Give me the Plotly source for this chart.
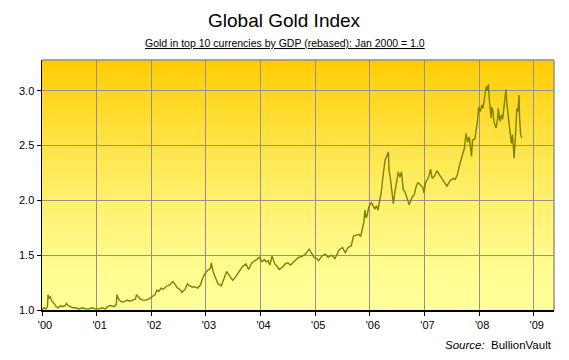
import plotly.graph_objects as go

# ---- data ----
t = [2000.00, 2000.03, 2000.07, 2000.10, 2000.11, 2000.13, 2000.15, 2000.18, 2000.22, 2000.26,
     2000.30, 2000.34, 2000.38, 2000.42, 2000.45, 2000.48, 2000.52, 2000.56, 2000.62, 2000.68,
     2000.74, 2000.80, 2000.86, 2000.92, 2000.98, 2001.04, 2001.10, 2001.16, 2001.20, 2001.26,
     2001.32, 2001.36, 2001.37, 2001.40, 2001.44, 2001.48, 2001.52, 2001.56, 2001.60, 2001.66,
     2001.71, 2001.73, 2001.76, 2001.80, 2001.85, 2001.90, 2001.95, 2002.00, 2002.03, 2002.07,
     2002.10, 2002.14, 2002.18, 2002.22, 2002.26, 2002.30, 2002.34, 2002.40, 2002.44, 2002.48,
     2002.52, 2002.56, 2002.58, 2002.62, 2002.66, 2002.70, 2002.75, 2002.80, 2002.85, 2002.90,
     2002.94, 2002.98, 2003.03, 2003.08, 2003.10, 2003.13, 2003.17, 2003.22, 2003.28, 2003.32,
     2003.38, 2003.42, 2003.49, 2003.54, 2003.60, 2003.66, 2003.73, 2003.78, 2003.84, 2003.90,
     2003.98, 2004.03, 2004.07, 2004.10, 2004.14, 2004.17, 2004.21, 2004.26, 2004.30, 2004.34,
     2004.40, 2004.45, 2004.50, 2004.55, 2004.60, 2004.65, 2004.70, 2004.76, 2004.82, 2004.89,
     2004.93, 2004.98, 2005.03, 2005.06, 2005.12, 2005.18, 2005.24, 2005.30, 2005.36, 2005.44,
     2005.50, 2005.55, 2005.60, 2005.66, 2005.70, 2005.74, 2005.80, 2005.83, 2005.86, 2005.89,
     2005.91, 2005.93, 2005.95, 2005.98, 2006.03, 2006.06, 2006.09, 2006.12, 2006.15, 2006.18,
     2006.21, 2006.24, 2006.28, 2006.34, 2006.35, 2006.37, 2006.40, 2006.43, 2006.46, 2006.52,
     2006.55, 2006.58, 2006.61, 2006.64, 2006.67, 2006.70, 2006.72, 2006.75, 2006.78, 2006.81,
     2006.85, 2006.88, 2006.91, 2006.94, 2006.97, 2006.99, 2007.02, 2007.05, 2007.08, 2007.11,
     2007.14, 2007.18, 2007.23, 2007.29, 2007.35, 2007.41, 2007.47, 2007.53, 2007.56, 2007.60,
     2007.64, 2007.68, 2007.73, 2007.76, 2007.79, 2007.82, 2007.86, 2007.88, 2007.92, 2007.97,
     2007.99, 2008.02, 2008.05, 2008.07, 2008.09, 2008.11, 2008.13, 2008.15, 2008.17, 2008.19,
     2008.22, 2008.23, 2008.25, 2008.27, 2008.31, 2008.34, 2008.35, 2008.38, 2008.41, 2008.43,
     2008.45, 2008.49, 2008.51, 2008.54, 2008.57, 2008.59, 2008.61, 2008.62, 2008.64, 2008.66,
     2008.68, 2008.69, 2008.71, 2008.73, 2008.74, 2008.76, 2008.78]

index = [1.00, 1.02, 1.01, 1.03, 1.14, 1.11, 1.12, 1.08, 1.06, 1.03,
         1.02, 1.04, 1.03, 1.04, 1.06, 1.04, 1.03, 1.02, 1.02, 1.01,
         1.02, 1.01, 1.01, 1.02, 1.01, 1.01, 1.02, 1.01, 1.03, 1.04,
         1.03, 1.05, 1.14, 1.10, 1.08, 1.07, 1.08, 1.09, 1.08, 1.09,
         1.10, 1.14, 1.12, 1.10, 1.09, 1.09, 1.10, 1.12, 1.13, 1.14,
         1.18, 1.17, 1.20, 1.19, 1.21, 1.22, 1.23, 1.26, 1.23, 1.20,
         1.19, 1.16, 1.17, 1.19, 1.24, 1.22, 1.21, 1.21, 1.20, 1.23,
         1.29, 1.33, 1.36, 1.38, 1.43, 1.35, 1.30, 1.24, 1.22, 1.27,
         1.35, 1.32, 1.27, 1.30, 1.35, 1.39, 1.42, 1.37, 1.43, 1.455,
         1.48, 1.44, 1.46, 1.44, 1.45, 1.41, 1.49, 1.42, 1.40, 1.37,
         1.39, 1.42, 1.43, 1.41, 1.44, 1.46, 1.48, 1.49, 1.51, 1.555,
         1.52, 1.48, 1.47, 1.45, 1.49, 1.51, 1.48, 1.50, 1.47, 1.55,
         1.57, 1.52, 1.57, 1.585, 1.675, 1.68, 1.69, 1.67, 1.73, 1.80,
         1.91, 1.84, 1.86, 1.94, 1.98, 1.95, 1.92, 1.95, 1.91, 2.00,
         2.08, 2.22, 2.37, 2.44, 2.28, 2.22, 2.10, 1.97, 2.08, 2.26,
         2.21, 2.26, 2.10, 2.08, 2.035, 2.00, 1.96, 2.00, 2.035, 2.05,
         2.13, 2.16, 2.15, 2.13, 2.12, 2.065, 2.16, 2.19, 2.22, 2.285,
         2.20, 2.22, 2.27, 2.22, 2.17, 2.13, 2.18, 2.20, 2.19, 2.23,
         2.32, 2.385, 2.475, 2.61, 2.53, 2.58, 2.40, 2.55, 2.56, 2.72,
         2.85, 2.81, 2.87, 2.84, 2.92, 3.00, 3.04, 3.00, 3.06, 2.90,
         2.75, 2.85, 2.82, 2.72, 2.66, 2.75, 2.84, 2.72, 2.78, 2.74,
         2.84, 3.01, 2.87, 2.72, 2.60, 2.52, 2.60, 2.47, 2.385, 2.55,
         2.72, 2.84, 2.81, 2.96, 2.75, 2.60, 2.57]

x_tickvals = [2000, 2001, 2002, 2003, 2004, 2005, 2006, 2007, 2008, 2009]
x_ticklabels = ["'00", "'01", "'02", "'03", "'04", "'05", "'06", "'07", "'08", "'09"]
y_tickvals = [1.0, 1.5, 2.0, 2.5, 3.0]
y_ticklabels = ["1.0", "1.5", "2.0", "2.5", "3.0"]

title_text = "Global Gold Index"
subtitle_text = "Gold in top 10 currencies by GDP (rebased): Jan 2000 = 1.0"

FONT = "Liberation Sans, Arial, sans-serif"
GRID = "#929292"

fig = go.Figure()
fig.add_trace(go.Scatter(x=t, y=index, mode="lines",
                         line=dict(color="#808000", width=1.4),
                         hoverinfo="skip", showlegend=False))

# vertical gradient background (top orange-yellow -> bottom pale yellow)
shapes = []
n = 80
top = (255, 204, 0)
bot = (255, 255, 153)
for i in range(n):
    f = ((i + 0.5) / n) ** 1.5  # 0 bottom, 1 top
    c = tuple(int(round(bot[k] + (top[k] - bot[k]) * f)) for k in range(3))
    shapes.append(dict(type="rect", xref="x domain", yref="y domain",
                       x0=0, x1=1, y0=i / n, y1=(i + 1) / n + 0.002,
                       fillcolor="rgb(%d,%d,%d)" % c, line=dict(width=0),
                       layer="below"))
# top and right frame
shapes.append(dict(type="line", xref="x domain", yref="y domain", x0=0, x1=1, y0=1, y1=1,
                   line=dict(color=GRID, width=1.5), layer="above"))
shapes.append(dict(type="line", xref="x domain", yref="y domain", x0=1, x1=1, y0=0, y1=1,
                   line=dict(color=GRID, width=1.5), layer="above"))

fig.update_layout(
    width=569, height=360,
    margin=dict(l=42, r=15, t=60, b=50, autoexpand=False),
    paper_bgcolor="white", plot_bgcolor="#FFFF99",
    font=dict(family=FONT, size=11, color="black"),
    shapes=shapes,
    showlegend=False,
    annotations=[
        dict(text=title_text, xref="paper", yref="paper", x=(284.5 - 42) / 512, y=1.16,
             xanchor="center", yanchor="middle", showarrow=False,
             font=dict(family=FONT, size=19, color="black")),
        dict(text="<u>" + subtitle_text + "</u>", xref="paper", yref="paper",
             x=(284.5 - 42) / 512, y=1.068, xanchor="center", yanchor="middle",
             showarrow=False, font=dict(family=FONT, size=10.5, color="black")),
        dict(text="<i>Source:</i>  BullionVault", xref="paper", yref="paper",
             x=1, y=-0.14, xanchor="right", yanchor="middle", showarrow=False,
             font=dict(family=FONT, size=11.5, color="black")),
    ],
)

fig.update_xaxes(range=[2000, 2009.37], tickvals=x_tickvals, ticktext=x_ticklabels,
                 showgrid=True, gridcolor=GRID, gridwidth=1,
                 showline=True, linecolor="black", linewidth=1.5,
                 ticks="outside", ticklen=4, tickcolor="black", automargin=False,
                 zeroline=False, ticklabelshift=3, fixedrange=True)
fig.update_yaxes(range=[1.0, 3.28], tickvals=y_tickvals, ticktext=y_ticklabels,
                 showgrid=True, gridcolor=GRID, gridwidth=1,
                 showline=True, linecolor="black", linewidth=1.5,
                 ticks="outside", ticklen=4, tickcolor="black", automargin=False,
                 zeroline=False, fixedrange=True)

fig.write_html("out.html", config={"displayModeBar": False, "staticPlot": True},
               post_script="document.body.style.margin='0';document.body.style.padding='0';")
